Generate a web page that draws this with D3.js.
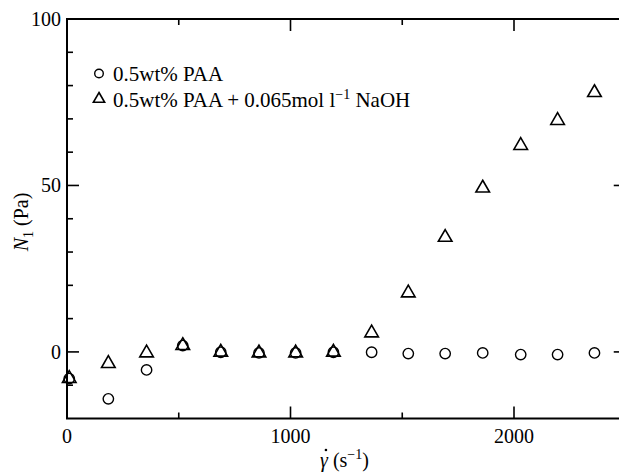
<!DOCTYPE html>
<html><head><meta charset="utf-8">
<script src="https://cdn.jsdelivr.net/npm/d3@7"></script>
<style>body{margin:0;background:#fff}svg{display:block}text{font-family:"Liberation Serif","Times New Roman",serif;fill:#000}</style>
</head><body><svg id="c" width="619" height="474"></svg>
<script>
const shearRate = [10, 185, 356, 518, 688, 859, 1023, 1192, 1363, 1527, 1692, 1860, 2030, 2195, 2360];
const paa = [-8.0, -14.1, -5.4, 1.9, -0.1, -0.3, -0.3, -0.1, -0.1, -0.5, -0.5, -0.3, -0.8, -0.8, -0.3];
const paaNaoh = [-8.0, -3.5, -0.3, 1.9, -0.1, -0.3, -0.3, -0.1, 5.7, 17.7, 34.4, 49.2, 62.0, 69.5, 77.9];
const xMajor = [0, 1000, 2000];
const xMinor = [500, 1500, 2500];
const yMajor = [0, 50, 100];
const yMinor = [-10, 10, 20, 30, 40, 60, 70, 80, 90];

const svg = d3.select("#c");
const L = 67, T = 19, R = 625.75, B = 418.5;
const x = d3.scaleLinear().domain([0, 2500]).range([L, R]);
const y = d3.scaleLinear().domain([-20, 100]).range([B, T]);

const g = svg.append("g");
function ticks(vals, len, isX) {
  vals.forEach(v => {
    if (isX) {
      const px = x(v);
      g.append("line").attr("x1", px).attr("x2", px).attr("y1", B).attr("y2", B - len).attr("stroke", "#000").attr("stroke-width", 1.6);
      g.append("line").attr("x1", px).attr("x2", px).attr("y1", T).attr("y2", T + len).attr("stroke", "#000").attr("stroke-width", 1.6);
    } else {
      const py = y(v);
      g.append("line").attr("x1", L).attr("x2", L + len).attr("y1", py).attr("y2", py).attr("stroke", "#000").attr("stroke-width", 1.6);
      g.append("line").attr("x1", R).attr("x2", R - len).attr("y1", py).attr("y2", py).attr("stroke", "#000").attr("stroke-width", 1.6);
    }
  });
}
ticks(xMajor, 12, true); ticks(xMinor, 6, true);
ticks(yMajor, 12, false); ticks(yMinor, 6, false);
g.append("rect").attr("x", L).attr("y", T).attr("width", R - L).attr("height", B - T)
  .attr("fill", "none").attr("stroke", "#000").attr("stroke-width", 2);

xMajor.forEach(v => g.append("text").attr("x", x(v)).attr("y", B + 24).attr("text-anchor", "middle").attr("font-size", 20).text(v));
yMajor.forEach(v => g.append("text").attr("x", L - 6).attr("y", y(v) + 7).attr("text-anchor", "end").attr("font-size", 20).text(v));

// x axis label
const xl = svg.append("text").attr("x", 320).attr("y", 467).attr("font-size", 20);
const gam = xl.append("tspan").attr("font-style", "italic").text("\u03B3");
xl.append("tspan").text(" (s");
xl.append("tspan").attr("dy", -8).attr("font-size", 14).text("\u22121");
xl.append("tspan").attr("dy", 8).text(")");
const gw = gam.node().getComputedTextLength();
svg.append("circle").attr("cx", 320 + gw / 2 + 2).attr("cy", 450).attr("r", 1.3).attr("fill", "#000");

const yl = svg.append("text").attr("transform", "translate(28,222) rotate(-90)").attr("text-anchor", "middle").attr("font-size", 20);
yl.append("tspan").attr("font-style", "italic").text("N");
yl.append("tspan").attr("dy", 5).attr("font-size", 14).text("1");
yl.append("tspan").attr("dy", -5).text(" (Pa)");

const tri = d3.symbol().type(d3.symbolTriangle);
function triPath(size) { return tri.size(size)(); }

const pts = shearRate.map((s, i) => ({ s, a: paa[i], b: paaNaoh[i] }));
g.selectAll("circle.d").data(pts).join("circle")
  .attr("cx", d => x(d.s)).attr("cy", d => y(d.a)).attr("r", 5.2)
  .attr("fill", "none").attr("stroke", "#000").attr("stroke-width", 1.4);
g.selectAll("path.t").data(pts).join("path")
  .attr("d", triPath(80)).attr("transform", d => `translate(${x(d.s)},${y(d.b)})`)
  .attr("fill", "none").attr("stroke", "#000").attr("stroke-width", 1.6);

// legend
svg.append("circle").attr("cx", 99).attr("cy", 73.5).attr("r", 4.3).attr("fill", "none").attr("stroke", "#000").attr("stroke-width", 1.4);
svg.append("path").attr("d", triPath(55)).attr("transform", "translate(99,99)").attr("fill", "none").attr("stroke", "#000").attr("stroke-width", 1.6);
svg.append("text").attr("x", 113).attr("y", 81).attr("font-size", 21).text("0.5wt% PAA");
const lt = svg.append("text").attr("x", 113).attr("y", 106.5).attr("font-size", 21);
lt.append("tspan").text("0.5wt% PAA + 0.065mol l");
lt.append("tspan").attr("dy", -8).attr("font-size", 14).text("\u22121");
lt.append("tspan").attr("dy", 8).text(" NaOH");
</script></body></html>
